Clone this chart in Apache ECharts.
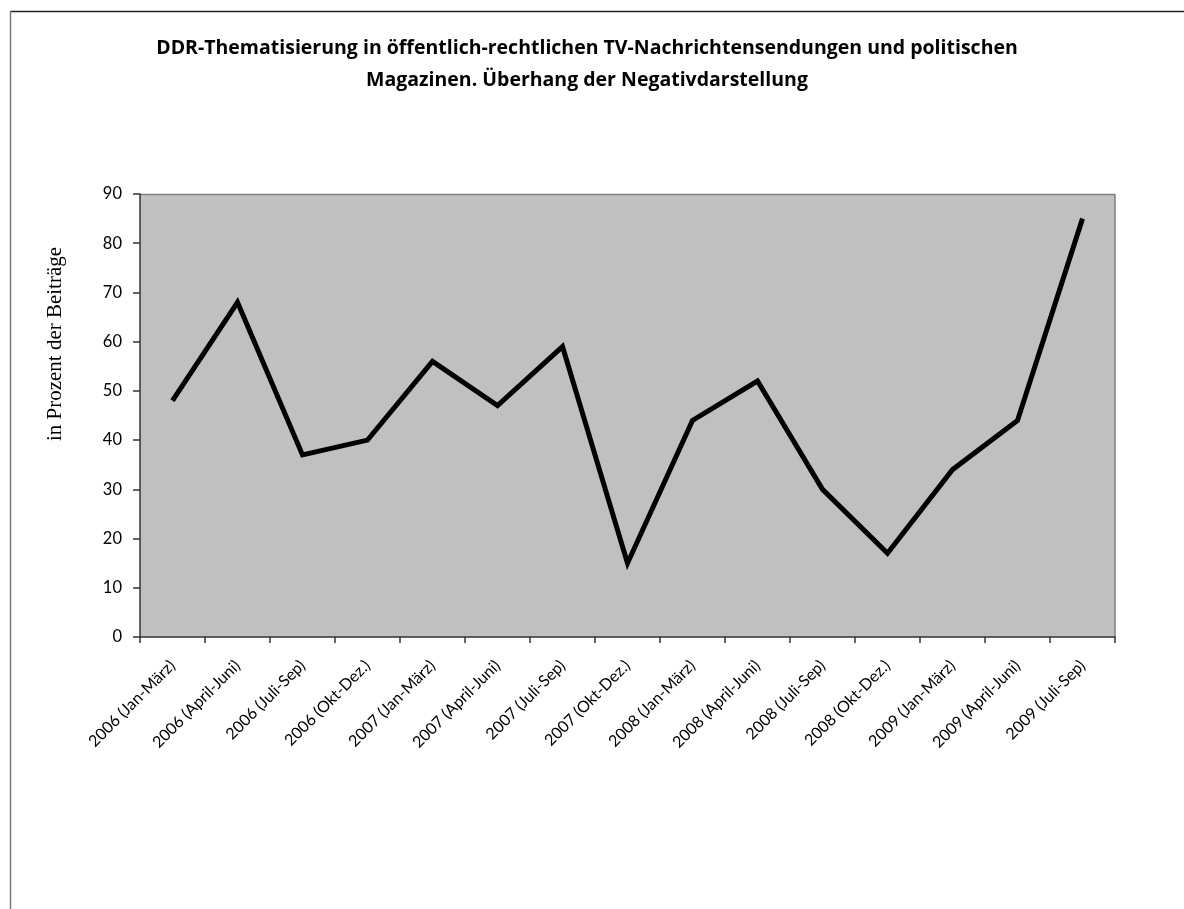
<!DOCTYPE html>
<html>
<head>
<meta charset="utf-8">
<script src="https://cdn.jsdelivr.net/npm/echarts@6/dist/echarts.min.js"></script>
<style>
html,body{margin:0;padding:0;background:#fff;}
#chart{width:1184px;height:909px;}
</style>
</head>
<body>
<div id="chart"></div>
<script>
const categories = ['2006 (Jan-März)','2006 (April-Juni)','2006 (Juli-Sep)','2006 (Okt-Dez.)','2007 (Jan-März)','2007 (April-Juni)','2007 (Juli-Sep)','2007 (Okt-Dez.)','2008 (Jan-März)','2008 (April-Juni)','2008 (Juli-Sep)','2008 (Okt-Dez.)','2009 (Jan-März)','2009 (April-Juni)','2009 (Juli-Sep)'];
const values = [48, 68, 37, 40, 56, 47, 59, 15, 44, 52, 30, 17, 34, 44, 85];
const titleText = 'DDR-Thematisierung in öffentlich-rechtlichen TV-Nachrichtensendungen und politischen\nMagazinen. Überhang der Negativdarstellung';
const yAxisName = 'in Prozent der Beiträge';

const chart = echarts.init(document.getElementById('chart'), null, {renderer: 'canvas'});
chart.setOption({
  backgroundColor: '#ffffff',
  animation: false,
  title: {
    text: titleText,
    left: 582,
    top: 27,
    textAlign: 'center',
    textStyle: {
      fontFamily: 'Open Sans, Lato, sans-serif',
      fontWeight: 'bold',
      fontSize: 19.5,
      lineHeight: 32,
      color: '#000'
    }
  },
  graphic: [
    {type: 'line', shape: {x1: 10, y1: 11.5, x2: 1184, y2: 11.5}, style: {stroke: '#222', lineWidth: 1.5}, silent: true},
    {type: 'line', shape: {x1: 10.5, y1: 11, x2: 10.5, y2: 909}, style: {stroke: '#777', lineWidth: 1.5}, silent: true},
    {type: 'line', shape: {x1: 140, y1: 194.5, x2: 1115, y2: 194.5}, style: {stroke: '#808080', lineWidth: 1.5}, silent: true},
    {type: 'line', shape: {x1: 1115, y1: 194, x2: 1115, y2: 637}, style: {stroke: '#808080', lineWidth: 1.5}, silent: true},
    {
      type: 'text',
      x: 55,
      y: 344,
      rotation: Math.PI / 2,
      silent: true,
      style: {
        text: yAxisName,
        fontFamily: 'Liberation Serif, Times New Roman, serif',
        fontSize: 21,
        fill: '#000',
        align: 'center',
        verticalAlign: 'middle'
      }
    }
  ],
  grid: {
    left: 140,
    right: 69,
    top: 194,
    bottom: 272,
    show: true,
    backgroundColor: '#c0c0c0',
    borderWidth: 0
  },
  xAxis: {
    type: 'category',
    data: categories,
    boundaryGap: true,
    axisLine: {show: true, lineStyle: {color: '#333', width: 1.5}},
    axisTick: {show: true, alignWithLabel: false, length: 6, lineStyle: {color: '#333', width: 1.5}},
    axisLabel: {
      rotate: 45,
      interval: 0,
      margin: 26,
      color: '#000',
      fontSize: 16,
      fontFamily: 'Lato, Open Sans, sans-serif'
    },
    splitLine: {show: false}
  },
  yAxis: {
    type: 'value',
    min: 0,
    max: 90,
    interval: 10,
    axisLine: {show: true, lineStyle: {color: '#333', width: 1.5}},
    axisTick: {show: true, length: 7, lineStyle: {color: '#333', width: 1.5}},
    axisLabel: {
      margin: 18,
      color: '#000',
      fontSize: 16.5,
      fontFamily: 'Lato, Open Sans, sans-serif'
    },
    splitLine: {show: false}
  },
  series: [{
    type: 'line',
    data: values,
    showSymbol: false,
    symbol: 'none',
    lineStyle: {color: '#000', width: 5, join: 'miter'},
    itemStyle: {color: '#000'}
  }]
});
</script>
</body>
</html>
